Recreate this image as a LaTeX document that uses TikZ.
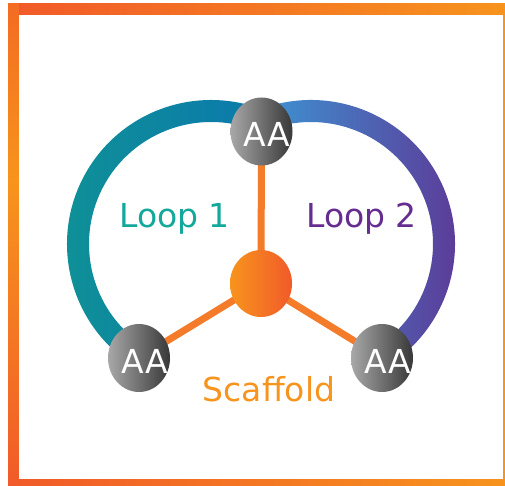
\documentclass[tikz,border=0pt]{standalone}
\usepackage{fontspec}
\setmainfont{DejaVu Sans}
\usetikzlibrary{shapes.geometric,calc}
\pgfdeclarelayer{background}
\pgfsetlayers{background,main}
\definecolor{fRed}{HTML}{F15A29}
\definecolor{fOrange}{HTML}{F7941D}
\definecolor{fMid}{HTML}{F36C22}
\definecolor{spokeC}{HTML}{F47B2A}
\definecolor{tealA}{HTML}{0F9295}
\definecolor{blueA}{HTML}{0B78AD}
\definecolor{blueB}{HTML}{3C98D6}
\definecolor{purpB}{HTML}{5E3594}
\definecolor{loopOne}{HTML}{14A89C}
\definecolor{loopTwo}{HTML}{662D91}
\definecolor{grayL}{HTML}{A8A8A8}
\definecolor{grayD}{HTML}{383838}
\begin{document}
\begin{tikzpicture}[x=1pt,y=-1pt,
  aa/.style={ellipse, draw=none, minimum width=62pt, minimum height=68pt, inner sep=0pt, left color=grayL, right color=grayD},
  core/.style={ellipse, draw=none, minimum width=62pt, minimum height=67pt, inner sep=0pt, left color=fOrange, right color=fRed},
  aatext/.style={text=white, font=\fontsize{33}{36}\selectfont, inner sep=0pt, anchor=base},
  lbl/.style={font=\fontsize{33}{36}\selectfont, inner sep=0pt},
  spoke/.style={draw=spokeC, line width=7pt}
]
\useasboundingbox (0,0) rectangle (505,486);
% frame
\shade[left color=fRed, right color=fOrange] (8,4) rectangle (513.5,15);
\shade[left color=fRed, right color=fOrange] (8,479) rectangle (513.5,489.5);
\fill[fOrange] (503,4) rectangle (513.5,489.5);
\shade[top color=fMid, bottom color=fOrange] (8,4) rectangle (18.5,180.5);
\shade[top color=fOrange, bottom color=fRed] (8,180) rectangle (18.5,489.5);

% nodes
\node[aa] (t) at (261.5,131.5) {};
\node[aa] (bl) at (139,358) {};
\node[aa] (br) at (382,358) {};
\node[core] (c) at (261,283.5) {};
\coordinate (C1) at (211,244);
\coordinate (C2) at (311,244);

\begin{pgfonlayer}{background}
\shade[left color=tealA, right color=blueA]
  (C1) ++(122.5:144) arc[start angle=122.5, end angle=294.1, radius=144]
  -- ++(294.1:-22) arc[start angle=294.1, end angle=122.5, radius=122] -- cycle;
\shade[left color=blueB, right color=purpB]
  (C2) ++(245.9:144) arc[start angle=245.9, end angle=417.5, radius=144]
  -- ++(417.5:-22) arc[start angle=417.5, end angle=245.9, radius=122] -- cycle;
\draw[spoke] (c.center) -- (t.center);
\draw[spoke] (c.center) -- (bl.center);
\draw[spoke] (c.center) -- (br.center);
\end{pgfonlayer}

\node[aatext] (tt) at (267,147) {AA};
\node[aatext] (blt) at (145,373) {AA};
\node[aatext] (brt) at (388,373) {AA};

\node[lbl, text=loopOne, anchor=base west] (l1) at (119,227) {Loop 1};
\node[lbl, text=loopTwo, anchor=base west] (l2) at (306,227) {Loop 2};
\node[lbl, text=fOrange, anchor=base] (sc) at (269,401) {Scaffold};
\end{tikzpicture}
\end{document}
